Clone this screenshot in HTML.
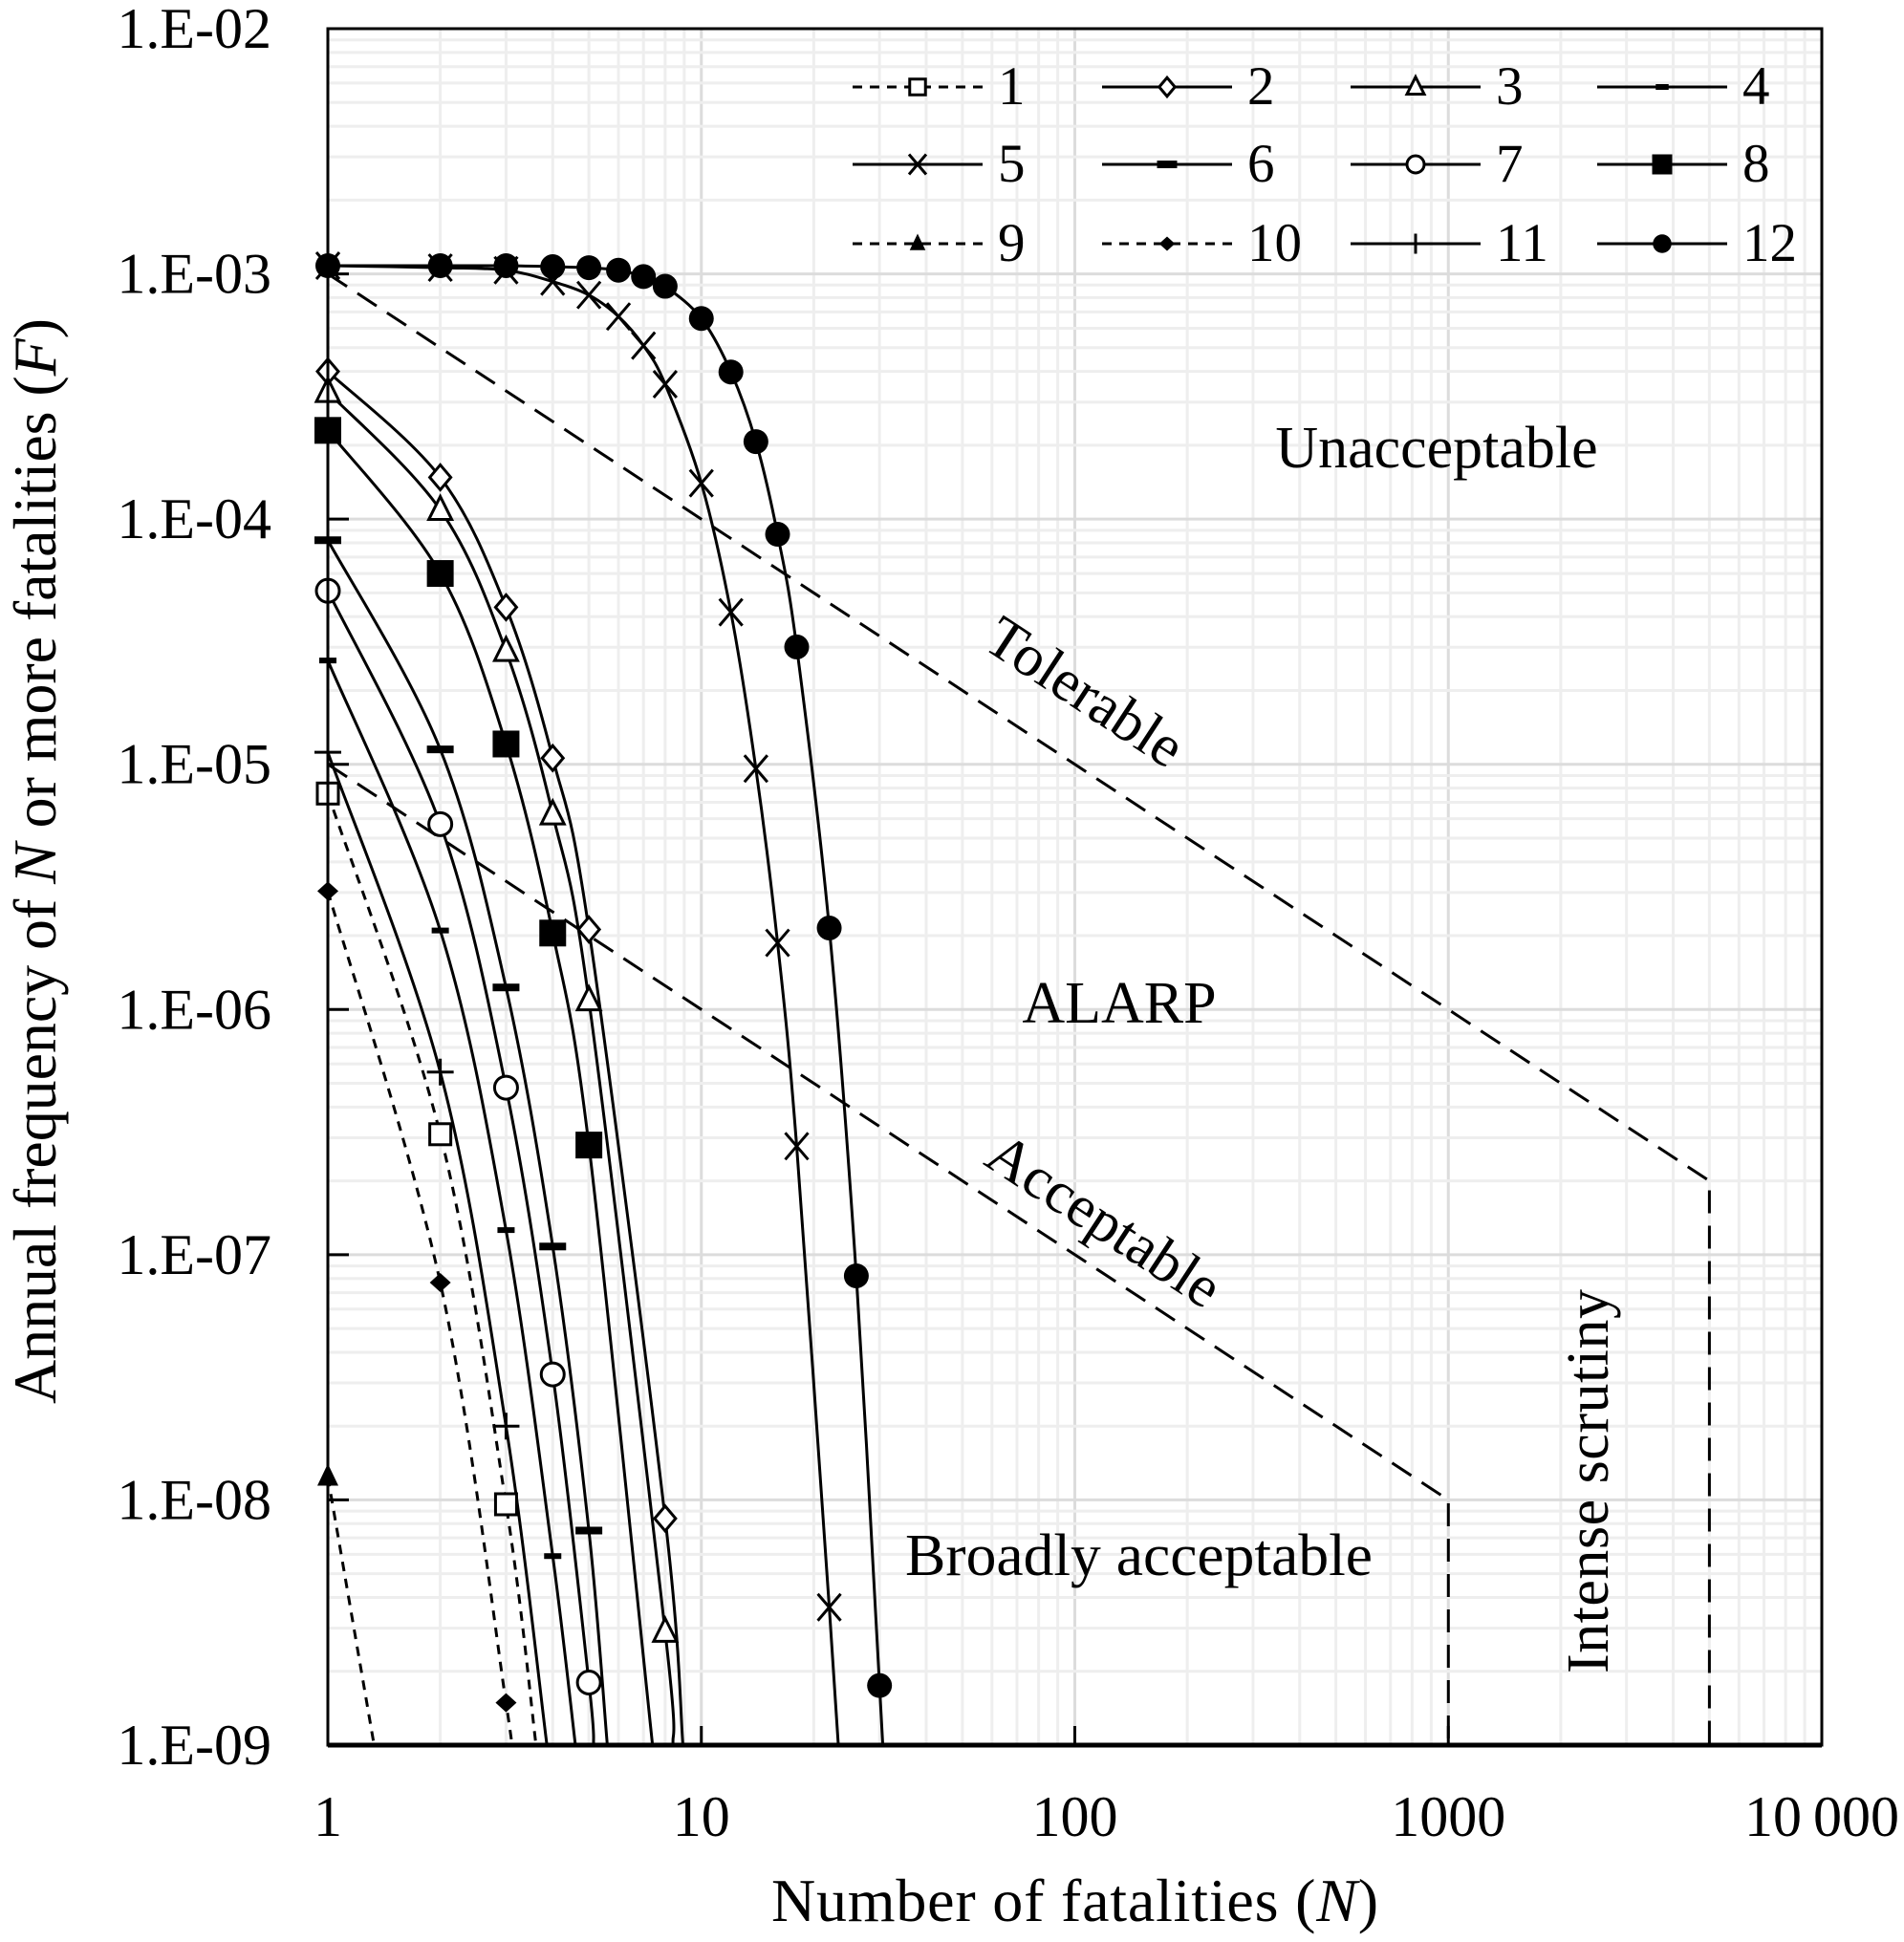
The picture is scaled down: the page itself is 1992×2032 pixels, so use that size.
<!DOCTYPE html>
<html><head><meta charset="utf-8"><style>
html,body{margin:0;padding:0;background:#fff}
svg{display:block}
text{font-family:"Liberation Serif",serif;fill:#000}
</style></head><body>
<svg id="chart" width="1992" height="2032" viewBox="0 0 1992 2032" xmlns="http://www.w3.org/2000/svg">
<defs><clipPath id="plotclip"><rect x="343" y="30" width="1563" height="1796"/></clipPath></defs>
<g id="grid"></g>
<g id="refs" clip-path="url(#plotclip)"></g>
<g id="series"></g>
<g id="axes"></g>
<g id="legend"></g>
<text x="1503" y="489" font-size="62" text-anchor="middle">Unacceptable</text>
<text x="1171" y="1070" font-size="62" text-anchor="middle">ALARP</text>
<text x="1124" y="741" font-size="62" text-anchor="middle" transform="rotate(33.3 1124 741)">Tolerable</text>
<text x="1144" y="1294" font-size="62" text-anchor="middle" transform="rotate(33.3 1144 1294)">Acceptable</text>
<text x="947" y="1648" font-size="62" textLength="489" lengthAdjust="spacingAndGlyphs">Broadly  acceptable</text>
<text x="1682" y="1550" font-size="62" text-anchor="middle" textLength="402" lengthAdjust="spacing" transform="rotate(-90 1682 1550)">Intense  scrutiny</text>
<text x="807" y="2010" font-size="64" textLength="635" lengthAdjust="spacing">Number of fatalities (<tspan font-style="italic">N</tspan>)</text>
<text x="58" y="901" font-size="64" text-anchor="middle" textLength="1136" lengthAdjust="spacing" transform="rotate(-90 58 901)">Annual frequency of <tspan font-style="italic">N</tspan> or more fatalities (<tspan font-style="italic">F</tspan>)</text>
</svg>
<script>
// ---- data ----
const xTickLabels = ["1","10","100","1000","10\u2009000"];
const yTickLabels = ["1.E-02","1.E-03","1.E-04","1.E-05","1.E-06","1.E-07","1.E-08","1.E-09"];
const seriesNames = ["1","2","3","4","5","6","7","8","9","10","11","12"];
const n1 = [1,2,3,3.61];      const f1 = [7.6e-6,3.1e-7,9.6e-9,1e-9];
const n2 = [1,2,3,4,5,8,8.93]; const f2 = [4.0e-4,1.48e-4,4.37e-5,1.06e-5,2.12e-6,8.4e-9,1e-9];
const n3 = [1,2,3,4,5,8,8.4];  const f3 = [3.3e-4,1.09e-4,2.9e-5,6.25e-6,1.09e-6,2.9e-9,1e-9];
const n4 = [1,2,3,4,4.6];      const f4 = [2.65e-5,2.1e-6,1.26e-7,5.9e-9,1e-9];
const n5 = [1,2,3,4,5,6,7,8,10,12,14,16,18,22,23.5];
const f5 = [1.08e-3,1.06e-3,1.035e-3,9.3e-4,8.2e-4,6.7e-4,5.1e-4,3.55e-4,1.4e-4,4.17e-5,9.6e-6,1.87e-6,2.77e-7,3.65e-9,8e-10];
const n6 = [1,2,3,4,5,5.6];    const f6 = [8.2e-5,1.15e-5,1.23e-6,1.08e-7,7.5e-9,1e-9];
const n7 = [1,2,3,4,5,5.15];   const f7 = [5.1e-5,5.7e-6,4.8e-7,3.25e-8,1.8e-9,1e-9];
const n8 = [1,2,3,4,5,7.4];    const f8 = [2.3e-4,6.0e-5,1.21e-5,2.05e-6,2.8e-7,1e-9];
const n9 = [1,1.33];           const f9 = [1.24e-8,1e-9];
const n10 = [1,2,3,3.08];      const f10 = [3.04e-6,7.7e-8,1.49e-9,1e-9];
const n11 = [1,2,3,3.86];      const f11 = [1.12e-5,5.56e-7,2.0e-8,1e-9];
const n12 = [1,2,3,4,5,6,7,8,10,12,14,16,18,22,26,30,31];
const f12 = [1.08e-3,1.08e-3,1.08e-3,1.07e-3,1.06e-3,1.035e-3,9.75e-4,8.9e-4,6.58e-4,3.98e-4,2.07e-4,8.67e-5,3.01e-5,2.15e-6,8.2e-8,1.75e-9,7e-10];
// markers: index of last plotted marker (extrapolated tail points have no marker)
const markerCount = [3,6,6,4,14,5,5,5,1,3,3,16];
const tolerableN = [1,1000,5000,5000]; const tolerableF = [1e-3,1e-6,2e-7,1e-9];
const acceptableN = [1,1000,1000,1000]; const acceptableF = [1e-5,1e-8,1e-8,1e-9];
const scrutinyN = [1000,1000]; const scrutinyF = [1e-6,1e-8];

// ---- scales ----
const L=343,R=1906,T=30,B=1826;
const X = n => L + Math.log10(n)/4*(R-L);
const Y = f => T + (-2 - Math.log10(f))/7*(B-T);
const NS="http://www.w3.org/2000/svg";
function mk(tag, parent, attrs){const e=document.createElementNS(NS,tag);for(const k in attrs)e.setAttribute(k,attrs[k]);parent.appendChild(e);return e;}

// ---- grid ----
const grid=document.getElementById('grid');
for(let d=0;d<4;d++){for(let m=1;m<=9;m++){const n=Math.pow(10,d)*m;if(n===1)continue;
  const ln=mk('line',grid,{x1:X(n),x2:X(n),y1:T,y2:B,stroke:m===1?'#dcdcdc':'#eeeeee','stroke-width':3});
  
  }}
for(let d=-9;d<-2;d++){for(let m=1;m<=9;m++){const f=m*Math.pow(10,d);
  const ln=mk('line',grid,{x1:L,x2:R,y1:Y(f),y2:Y(f),stroke:m===1?'#dcdcdc':'#eeeeee','stroke-width':3});
  
  }}

// ---- reference lines ----
const refs=document.getElementById('refs');
function refPath(ns,fs,name){const d=ns.map((n,i)=>(i?'L':'M')+X(n).toFixed(1)+' '+Y(fs[i]).toFixed(1)).join(' ');
  const p=mk('path',refs,{d:d,fill:'none',stroke:'#000','stroke-width':3,'stroke-dasharray':'24 13'});
  
  }
refPath(tolerableN,tolerableF,'tolerable-limit-line');
refPath(acceptableN,acceptableF,'acceptable-limit-line');

// ---- series ----
const sg=document.getElementById('series');
const clipG=mk('g',sg,{'clip-path':'url(#plotclip)'});
const markG=mk('g',sg,{});
const allN=[n1,n2,n3,n4,n5,n6,n7,n8,n9,n10,n11,n12];
const allF=[f1,f2,f3,f4,f5,f6,f7,f8,f9,f10,f11,f12];
const dashed=[true,false,false,false,false,false,false,false,true,true,false,false];
const mtype=['osq','odia','otri','dash4','x','dash6','ocirc','fsq','ftri','fdia','plus','fcirc'];
function smooth(pts){if(pts.length<3)return 'M'+pts.map(p=>p.join(' ')).join(' L');
  let d='M'+pts[0][0]+' '+pts[0][1];
  for(let i=0;i<pts.length-1;i++){const p0=pts[Math.max(0,i-1)],p1=pts[i],p2=pts[i+1],p3=pts[Math.min(pts.length-1,i+2)];
    const c1=[p1[0]+(p2[0]-p0[0])/6,p1[1]+(p2[1]-p0[1])/6],c2=[p2[0]-(p3[0]-p1[0])/6,p2[1]-(p3[1]-p1[1])/6];
    d+=` C${c1[0].toFixed(1)} ${c1[1].toFixed(1)} ${c2[0].toFixed(1)} ${c2[1].toFixed(1)} ${p2[0].toFixed(1)} ${p2[1].toFixed(1)}`;}
  return d;}
function marker(g,t,x,y,s){
  s=s||1;
  const st={stroke:'#000','stroke-width':3};
  let e;
  if(t==='osq') e=mk('rect',g,Object.assign({x:x-11*s,y:y-11*s,width:22*s,height:22*s,fill:'#fff'},st));
  else if(t==='fsq') e=mk('rect',g,{x:x-14*s,y:y-14*s,width:28*s,height:28*s,fill:'#000'});
  else if(t==='odia') e=mk('path',g,Object.assign({d:`M${x} ${y-13*s}L${x+11*s} ${y}L${x} ${y+13*s}L${x-11*s} ${y}Z`,fill:'#fff'},st));
  else if(t==='fdia') e=mk('path',g,{d:`M${x} ${y-10*s}L${x+11*s} ${y}L${x} ${y+10*s}L${x-11*s} ${y}Z`,fill:'#000'});
  else if(t==='otri') e=mk('path',g,Object.assign({d:`M${x} ${y-14*s}L${x+12*s} ${y+10*s}L${x-12*s} ${y+10*s}Z`,fill:'#fff'},st));
  else if(t==='ftri') e=mk('path',g,{d:`M${x} ${y-14*s}L${x+11*s} ${y+9*s}L${x-11*s} ${y+9*s}Z`,fill:'#000'});
  else if(t==='ocirc') e=mk('circle',g,Object.assign({cx:x,cy:y,r:12*s,fill:'#fff'},st));
  else if(t==='fcirc') e=mk('circle',g,{cx:x,cy:y,r:13*s,fill:'#000'});
  else if(t==='dash4') e=mk('rect',g,{x:x-9*s,y:y-3,width:18*s,height:6,fill:'#000'});
  else if(t==='dash6') e=mk('rect',g,{x:x-14*s,y:y-4,width:28*s,height:8,fill:'#000'});
  else if(t==='x') e=mk('path',g,{d:`M${x-12*s} ${y-14*s}L${x+12*s} ${y+14*s}M${x+12*s} ${y-14*s}L${x-12*s} ${y+14*s}`,stroke:'#000','stroke-width':3,fill:'none'});
  else if(t==='plus') e=mk('path',g,{d:`M${x-14*s} ${y}L${x+14*s} ${y}M${x} ${y-14*s}L${x} ${y+14*s}`,stroke:'#000','stroke-width':3,fill:'none'});
  return e;}
allN.forEach((ns,si)=>{
  const pts=ns.map((n,i)=>[X(n),Y(allF[si][i])]);
  const p=mk('path',clipG,{d:smooth(pts),fill:'none',stroke:'#000','stroke-width':3});
  if(dashed[si]) p.setAttribute('stroke-dasharray','10 8');
  
  
  for(let i=0;i<markerCount[si];i++){
    const m=marker(markG,mtype[si],pts[i][0],pts[i][1]);
    
    
  }
});

// ---- axes ----
const ax=document.getElementById('axes');
const frame=mk('rect',ax,{x:L,y:T,width:R-L,height:B-T,fill:'none',stroke:'#000','stroke-width':3});


const xa=mk('line',ax,{x1:L,x2:R,y1:B,y2:B,stroke:'#000','stroke-width':5});


xTickLabels.forEach((lab,i)=>{const x=X(Math.pow(10,i));
  mk('line',ax,{x1:x,x2:x,y1:B,y2:B-20,stroke:'#000','stroke-width':3});
  const t=mk('text',ax,{x:x,y:1921,'font-size':60,'text-anchor':'middle'});t.textContent=lab;
  
  });
yTickLabels.forEach((lab,i)=>{const y=Y(Math.pow(10,-2-i));
  mk('line',ax,{x1:L,x2:L+22,y1:y,y2:y,stroke:'#000','stroke-width':3});
  const t=mk('text',ax,{x:284,y:y+20,'font-size':60,'text-anchor':'end'});t.textContent=lab;
  
  });

// ---- legend ----
const lg=document.getElementById('legend');
const colX=[892,1153,1413,1671], rowY=[91,172,255];
seriesNames.forEach((nm,i)=>{const c=i%4,r=Math.floor(i/4);const x0=colX[c],y=rowY[r];
  const g=mk('g',lg,{});
  
  
  const ln=mk('line',g,{x1:x0,x2:x0+136,y1:y,y2:y,stroke:'#000','stroke-width':3});
  if(dashed[i]) ln.setAttribute('stroke-dasharray','10 8');
  marker(g,mtype[i],x0+68,y,0.75);
  const t=mk('text',g,{x:x0+152,y:y+18,'font-size':57});t.textContent=nm;});
</script>
</body></html>
